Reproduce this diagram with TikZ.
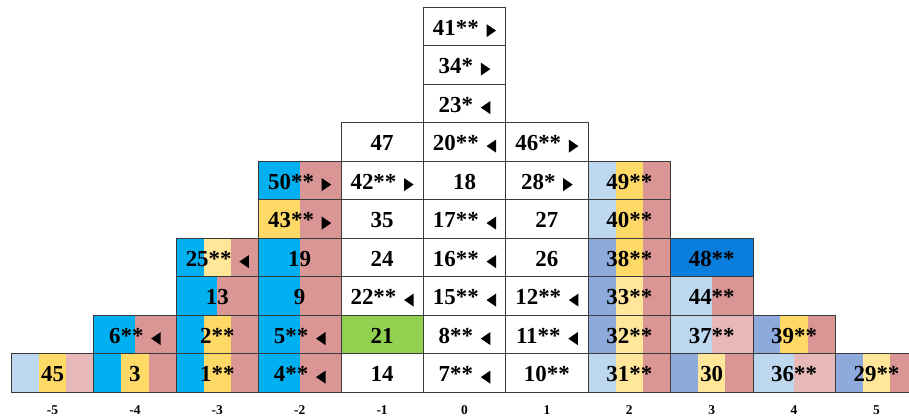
\documentclass[tikz,border=0pt]{standalone}
\usepackage{fontspec}
\setmainfont{Liberation Serif}
\definecolor{lineC}{HTML}{3A3A3A}
\definecolor{cB}{HTML}{00B0F0}
\definecolor{cY}{HTML}{FFD966}
\definecolor{cLY}{HTML}{FFE699}
\definecolor{cP}{HTML}{DA9694}
\definecolor{cLP}{HTML}{E6B8B7}
\definecolor{cLB}{HTML}{BDD7EE}
\definecolor{cMB}{HTML}{8EA9DB}
\definecolor{cG}{HTML}{92D050}
\definecolor{cDB}{HTML}{0A7EDC}
\newcommand{\cellfont}{\fontsize{23}{27}\selectfont\bfseries}
\newcommand{\rtri}{\hspace{2bp}\raisebox{-1.8bp}{\tikz\fill[black] (0bp,0bp) -- (9.5bp,6.5bp) -- (0bp,13bp) -- cycle;}}
\newcommand{\ltri}{\hspace{2bp}\raisebox{-1.8bp}{\tikz\fill[black] (9.5bp,0bp) -- (0bp,6.5bp) -- (9.5bp,13bp) -- cycle;}}
\newcommand{\cell}[4]{\node[cellbox] (#1) at ({464.5+82.4*(#2)},{45.25+38.5*(#3)}) {#4};}
\newcommand{\thirds}[5]{%
  \fill[#3] ({423.3+82.4*(#1)},{26+38.5*(#2)}) rectangle ++(27.47,38.5);
  \fill[#4] ({423.3+82.4*(#1)+27.47},{26+38.5*(#2)}) rectangle ++(27.47,38.5);
  \fill[#5] ({423.3+82.4*(#1)+54.93},{26+38.5*(#2)}) rectangle ++(27.47,38.5);}
\newcommand{\halves}[4]{%
  \fill[#3] ({423.3+82.4*(#1)},{26+38.5*(#2)}) rectangle ++(41.2,38.5);
  \fill[#4] ({423.3+82.4*(#1)+41.2},{26+38.5*(#2)}) rectangle ++(41.2,38.5);}
\newcommand{\whole}[3]{%
  \fill[#3] ({423.3+82.4*(#1)},{26+38.5*(#2)}) rectangle ++(82.4,38.5);}
\tikzset{
  cellbox/.style={draw=lineC, line width=0.8bp, minimum width=82.4bp, minimum height=38.5bp, inner sep=0pt, text height=18.1bp, text depth=0bp, font=\cellfont, text=black},
  lab/.style={font=\fontsize{13.5}{15}\selectfont\bfseries, text=black, inner sep=0pt}
}
\begin{document}
\begin{tikzpicture}[x=1bp,y=1bp]
\useasboundingbox (0,0) rectangle (909,418);
\clip (0,0) rectangle (909,418);
% backgrounds
\thirds{-5}{0}{cLB}{cY}{cLP}
\thirds{-4}{0}{cB}{cY}{cP}
\halves{-4}{1}{cB}{cP}
\thirds{-3}{0}{cB}{cY}{cP}
\thirds{-3}{1}{cB}{cY}{cP}
\halves{-3}{2}{cB}{cP}
\thirds{-3}{3}{cB}{cLY}{cP}
\halves{-2}{0}{cB}{cP}
\halves{-2}{1}{cB}{cP}
\halves{-2}{2}{cB}{cP}
\halves{-2}{3}{cB}{cP}
\halves{-2}{4}{cY}{cP}
\halves{-2}{5}{cB}{cP}
\whole{-1}{1}{cG}
\thirds{2}{0}{cLB}{cLY}{cP}
\thirds{2}{1}{cMB}{cLY}{cP}
\thirds{2}{2}{cMB}{cLY}{cP}
\thirds{2}{3}{cMB}{cY}{cP}
\thirds{2}{4}{cLB}{cY}{cP}
\thirds{2}{5}{cLB}{cY}{cP}
\thirds{3}{0}{cMB}{cLY}{cP}
\halves{3}{1}{cLB}{cLP}
\halves{3}{2}{cLB}{cP}
\whole{3}{3}{cDB}
\halves{4}{0}{cLB}{cLP}
\thirds{4}{1}{cMB}{cY}{cP}
\thirds{5}{0}{cMB}{cLY}{cP}
% cells
\cell{n45}{-5}{0}{45}
\cell{n3}{-4}{0}{3}
\cell{n6}{-4}{1}{6** \ltri}
\cell{n1}{-3}{0}{1**}
\cell{n2}{-3}{1}{2**}
\cell{n13}{-3}{2}{13}
\cell{n25}{-3}{3}{25** \ltri}
\cell{n4}{-2}{0}{4** \ltri}
\cell{n5}{-2}{1}{5** \ltri}
\cell{n9}{-2}{2}{9}
\cell{n19}{-2}{3}{19}
\cell{n43}{-2}{4}{43** \rtri}
\cell{n50}{-2}{5}{50** \rtri}
\cell{n14}{-1}{0}{14}
\cell{n21}{-1}{1}{21}
\cell{n22}{-1}{2}{22** \ltri}
\cell{n24}{-1}{3}{24}
\cell{n35}{-1}{4}{35}
\cell{n42}{-1}{5}{42** \rtri}
\cell{n47}{-1}{6}{47}
\cell{n7}{0}{0}{7** \ltri}
\cell{n8}{0}{1}{8** \ltri}
\cell{n15}{0}{2}{15** \ltri}
\cell{n16}{0}{3}{16** \ltri}
\cell{n17}{0}{4}{17** \ltri}
\cell{n18}{0}{5}{18}
\cell{n20}{0}{6}{20** \ltri}
\cell{n23}{0}{7}{23* \ltri}
\cell{n34}{0}{8}{34* \rtri}
\cell{n41}{0}{9}{41** \rtri}
\cell{n10}{1}{0}{10**}
\cell{n11}{1}{1}{11** \ltri}
\cell{n12}{1}{2}{12** \ltri}
\cell{n26}{1}{3}{26}
\cell{n27}{1}{4}{27}
\cell{n28}{1}{5}{28* \rtri}
\cell{n46}{1}{6}{46** \rtri}
\cell{n31}{2}{0}{31**}
\cell{n32}{2}{1}{32**}
\cell{n33}{2}{2}{33**}
\cell{n38}{2}{3}{38**}
\cell{n40}{2}{4}{40**}
\cell{n49}{2}{5}{49**}
\cell{n30}{3}{0}{30}
\cell{n37}{3}{1}{37**}
\cell{n44}{3}{2}{44**}
\cell{n48}{3}{3}{48**}
\cell{n36}{4}{0}{36**}
\cell{n39}{4}{1}{39**}
\cell{n29}{5}{0}{29**}
% axis labels
\foreach \c in {-5,...,5} {
  \node[lab] (lab\c) at ({464.5+82.4*(\c)},8) {\c};
}
\end{tikzpicture}
\end{document}
